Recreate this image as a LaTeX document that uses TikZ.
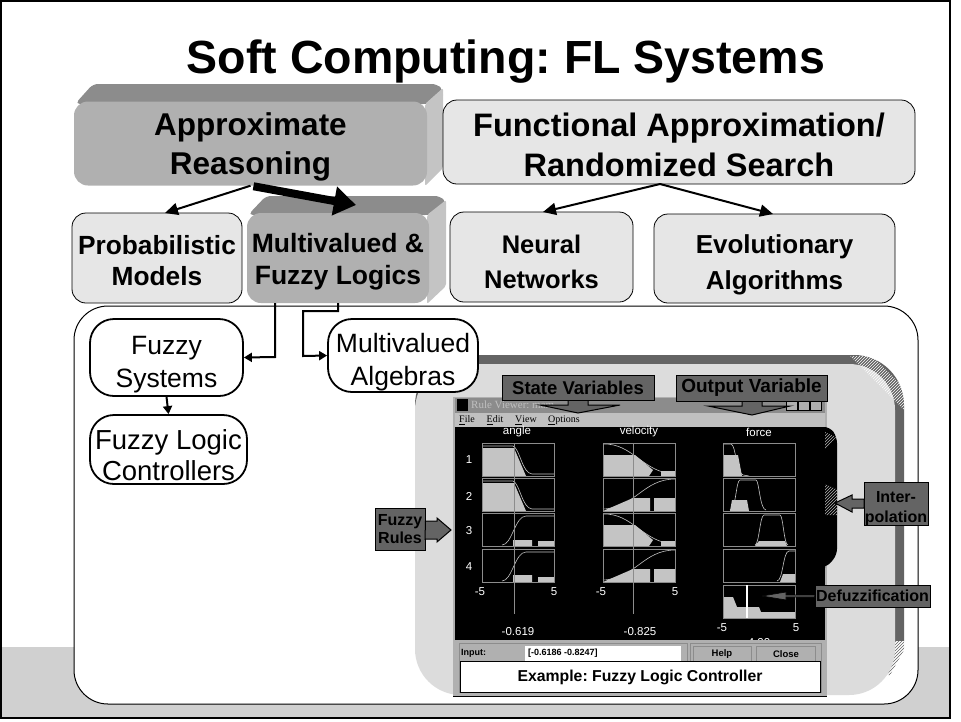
\documentclass[tikz,border=0pt]{standalone}
\usepackage{fontspec}
\setmainfont{Liberation Sans}
\newfontfamily\winfont{Liberation Serif}
\newfontfamily\fieldfont{Liberation Mono}
\usetikzlibrary{arrows.meta,patterns}
\definecolor{bandgray}{HTML}{D0D0D0}
\definecolor{palegray}{HTML}{E6E6E6}
\definecolor{midgray}{HTML}{B0B0B0}
\definecolor{topgray}{HTML}{8C8C8C}
\definecolor{sidegray}{HTML}{C4C4C4}
\definecolor{callgray}{HTML}{646464}
\definecolor{panelgray}{HTML}{DCDCDC}
\frenchspacing
\tikzset{
  mbox/.style={draw,rounded corners=14pt,fill=palegray,align=center,inner sep=0pt,line width=0.8pt},
  mdark/.style={rounded corners=14pt,fill=midgray,align=center,inner sep=0pt},
  mround/.style={draw,rounded corners=24pt,fill=white,align=center,inner sep=0pt,line width=1.8pt,font=\fontsize{26.5}{33}\selectfont},
  mcall/.style={draw,fill=callgray,align=center,inner sep=0pt,line width=1pt,font=\bfseries\fontsize{#1}{#1}\selectfont},
  mcall/.default=18,
  conn/.style={line width=2pt,-{Triangle[length=13pt,width=12pt]}},
  connsmall/.style={line width=2pt,-{Triangle[length=8pt,width=9pt]}},
  cellframe/.style={draw=topgray,line width=0.9pt},
  curve/.style={draw=sidegray,line width=0.6pt},
  wintext/.style={text=#1,inner sep=0pt,font=\fontsize{11.5}{11.5}\selectfont},
  wintext/.default=white,
}
\newcommand{\drop}[1]{\rule{0pt}{#1pt}}
\newcommand{\plotcell}[4]{\begin{scope}[shift={(#1,#2)}]
  \fill[sidegray] #3;
  \draw[curve] #4;
  \draw[cellframe] (0,0) rectangle (72,33);
\end{scope}}
\begin{document}
\begin{tikzpicture}[x=1pt,y=-1pt]
  \useasboundingbox (0,0) rectangle (961,721);
  % page
  \fill[bandgray] (0,647) rectangle (951,718);
  \draw[line width=1.6pt] (1,1) rectangle (950,718);
  \node[font=\bfseries\fontsize{46.5}{46.5}\selectfont,inner sep=0pt] (title) at (506,62) {Soft Computing: FL Systems};
  % big frame
  \node[draw,rounded corners=34pt,fill=white,minimum width=844pt,minimum height=398pt,line width=1pt] (frame) at (496,505) {};
  % screenshot panel
  \begin{scope}
    \clip (400,350) rectangle (910,640);
    \fill[callgray,rounded corners=50pt] (415,355) rectangle (904,720);
  \end{scope}
  \fill[pattern=north east lines,pattern color=callgray] (894,640) -- (904,640) -- (904,650) -- (890,675) -- (880,675) -- cycle;
  \fill[panelgray,rounded corners=46pt] (415,364) rectangle (895,695);
  \fill[pattern=north east lines,pattern color=white] (850,356) -- (872,356) -- (904,388) -- (904,410) -- cycle;
  % window
  \fill[midgray] (453,397) rectangle (827,696);
  \draw[black,line width=0.8pt] (453,696) -- (827,696);
  \fill[topgray] (455,398) rectangle (825,413);
  \fill[midgray!80!white] (455,413) rectangle (825,427);
  \fill[black] (455,427) rectangle (825,640);
  \fill[black,rounded corners=6pt] (820,427) -- (830,427) -- (837,437) -- (837,555) -- (827,567) -- (820,567) -- cycle;
  \fill[pattern=north east lines,pattern color=white!70!black] (825,432) -- (836,437) -- (825,450) -- cycle;
  \fill[pattern=north east lines,pattern color=white!70!black] (825,484) -- (838,490) -- (838,515) -- (825,515) -- cycle;
  \fill[black] (457,399) rectangle (468,411);
  \node[wintext=white!75!black,anchor=west,font=\winfont\fontsize{11}{11}\selectfont] (wintitle) at (471,405) {Rule Viewer: mam};
  \foreach \bx in {786,798,810} {\draw[fill=midgray] (\bx,399) rectangle ++(11,11);}
  \node[wintext=black,font=\winfont\fontsize{10}{10}\selectfont] (mfile) at (467,420) {\underline{F}ile};
  \node[wintext=black,font=\winfont\fontsize{10}{10}\selectfont] (medit) at (495,420) {\underline{E}dit};
  \node[wintext=black,font=\winfont\fontsize{10}{10}\selectfont] (mview) at (526,420) {\underline{V}iew};
  \node[wintext=black,font=\winfont\fontsize{10}{10}\selectfont] (mopt) at (564,420) {\underline{O}ptions};
  \node[wintext] (angle) at (517,432) {angle};
  \node[wintext] (velocity) at (639,432) {velocity};
  \node[wintext] (force) at (759,432) {force};
  \foreach \rownum/\rowy in {1/460,2/496,3/531,4/567} {
    \node[wintext] (row\rownum) at (469,\rowy) {\rownum};
  }
  % plot cells
  \plotcell{482}{443}{(0,5) -- (32,5) -- (44,33) -- (0,33) -- cycle}{(0,3) -- (31,3) .. controls (38,6) and (40,30) .. (50,31) -- (72,31)}
  \plotcell{482}{478}{(0,5) -- (32,5) -- (44,33) -- (0,33) -- cycle}{(0,3) -- (31,3) .. controls (38,6) and (40,30) .. (50,31) -- (72,31)}
  \plotcell{482}{513}{(31,27) -- (50,27) -- (50,33) -- (31,33) -- cycle (56,28) -- (72,28) -- (72,33) -- (56,33) -- cycle}{(20,32) .. controls (30,32) and (33,3) .. (44,3) -- (72,3)}
  \plotcell{482}{549}{(31,26) -- (50,26) -- (50,33) -- (31,33) -- cycle (56,28) -- (72,28) -- (72,33) -- (56,33) -- cycle}{(20,32) .. controls (30,32) and (33,3) .. (44,3) -- (72,3)}
  \plotcell{603}{443}{(0,12) -- (32,12) -- (50,27) -- (46,33) -- (0,33) -- cycle (58,28) -- (72,28) -- (72,33) -- (58,33) -- cycle}{(0,1) .. controls (30,0) and (40,30) .. (72,31)}
  \plotcell{603}{478}{(30,20) -- (47,20) -- (47,33) -- (0,33) -- cycle (51,20) -- (72,20) -- (72,33) -- (51,33) -- cycle}{(0,31) .. controls (32,30) and (40,1) .. (72,1)}
  \plotcell{603}{513}{(0,12) -- (32,12) -- (50,27) -- (46,33) -- (0,33) -- cycle (58,28) -- (72,28) -- (72,33) -- (58,33) -- cycle}{(0,1) .. controls (30,0) and (40,30) .. (72,31)}
  \plotcell{603}{549}{(30,20) -- (47,20) -- (47,33) -- (0,33) -- cycle (51,20) -- (72,20) -- (72,33) -- (51,33) -- cycle}{(0,31) .. controls (32,30) and (40,1) .. (72,1)}
  \plotcell{723}{443}{(0,12) -- (15,12) -- (19,33) -- (0,33) -- cycle}{(0,1) -- (8,1) .. controls (13,2) and (13,30) .. (20,32) -- (26,33)}
  \plotcell{723}{478}{(9,22) -- (24,22) -- (26,33) -- (7,33) -- cycle}{(7,32) .. controls (13,32) and (13,2) .. (17,2) -- (33,2) .. controls (36,2) and (37,32) .. (43,32)}
  \plotcell{723}{513}{(36,28) -- (62,28) -- (64,33) -- (32,33) -- cycle}{(32,32) .. controls (36,32) and (37,2) .. (41,2) -- (57,2) .. controls (60,2) and (61,32) .. (65,32)}
  \plotcell{723}{549}{(60,25) -- (72,25) -- (72,33) -- (57,33) -- cycle}{(54,32) .. controls (60,32) and (60,2) .. (66,2) -- (72,2)}
  \plotcell{723}{585}{(0,12) -- (10,12) -- (14,22) -- (36,22) -- (38,27) -- (72,27) -- (72,33) -- (0,33) -- cycle}{(0,33) -- (0,33)}
  \draw[topgray,line width=1pt] (514,443) -- (514,614);
  \draw[topgray,line width=1pt] (633,443) -- (633,614);
  \draw[white,line width=2.4pt] (747,585) -- (747,618);
  \node[wintext] (amin) at (480,592) {-5};
  \node[wintext] (amax) at (554,592) {5};
  \node[wintext] (vmin) at (601,592) {-5};
  \node[wintext] (vmax) at (675,592) {5};
  \node[wintext] (fmin) at (722,628) {-5};
  \node[wintext] (fmax) at (796,628) {5};
  \node[wintext] (aval) at (518,632) {-0.619};
  \node[wintext] (vval) at (640,632) {-0.825};
  \node[wintext] (fval) at (759,643) {4.00};
  % input strip
  \fill[midgray] (455,640) rectangle (825,694);
  \draw[topgray] (459,643) rectangle (687,692);
  \draw[topgray] (690,643) rectangle (821,692);
  \node[wintext=black,anchor=west,font=\bfseries\fontsize{9}{9}\selectfont] (inlabel) at (461,653) {Input:};
  \node[fill=white,minimum width=156pt,minimum height=15pt,inner sep=0pt] (infield) at (603,653) {};
  \node[wintext=black,anchor=west,font=\bfseries\fontsize{9}{9}\selectfont] (invalue) at (528,653) {[-0.6186 -0.8247]};
  \node[draw=topgray,fill=midgray,minimum width=58pt,minimum height=15pt,inner sep=0pt,font=\bfseries\fontsize{9.5}{9.5}\selectfont] (help) at (722,654) {Help};
  \node[draw=topgray,fill=midgray,minimum width=59pt,minimum height=15pt,inner sep=0pt,font=\bfseries\fontsize{9.5}{9.5}\selectfont] (close) at (786,654) {Close};
  \node[draw,fill=white,minimum width=360pt,minimum height=31pt,inner sep=0pt,line width=1pt,font=\bfseries\fontsize{15.8}{15.8}\selectfont] (example) at (640,677) {Example: Fuzzy Logic Controller};
  % top boxes
  \fill[topgray,rounded corners=5pt] (75,104) -- (93,84) -- (437,84) -- (443,90) -- (443,100) -- (428,104) -- cycle;
  \fill[sidegray,rounded corners=2pt] (425,104) -- (443,88) -- (443,168) -- (425,186) -- cycle;
  \node[mdark,minimum width=353pt,minimum height=84pt,font=\bfseries\fontsize{31.5}{39}\selectfont] (reason) at (250.5,143.5) {\drop{30}Approximate\\Reasoning};
  \node[mbox,minimum width=472pt,minimum height=84pt,font=\bfseries\fontsize{32.5}{40}\selectfont] (func) at (679,142) {\drop{30}Functional Approximation/\\Randomized Search};
  \node[mbox,minimum width=170pt,minimum height=90pt,font=\bfseries\fontsize{26.3}{31}\selectfont] (prob) at (157,258) {\drop{24}Probabilistic\\Models};
  \fill[topgray,rounded corners=5pt] (248,215) -- (266,196) -- (440,196) -- (446,202) -- (446,212) -- (430,215) -- cycle;
  \fill[sidegray,rounded corners=2pt] (427,215) -- (446,200) -- (446,286) -- (427,304) -- cycle;
  \node[mdark,minimum width=182pt,minimum height=90pt,font=\bfseries\fontsize{26.5}{32}\selectfont] (multi) at (338,258) {\drop{27}Multivalued \&\\Fuzzy Logics};
  \node[mbox,minimum width=183pt,minimum height=90pt,font=\bfseries\fontsize{25.5}{35}\selectfont] (neural) at (541.5,257) {\drop{29}Neural\\Networks};
  \node[mbox,minimum width=241pt,minimum height=89pt,font=\bfseries\fontsize{26}{36}\selectfont] (evol) at (774.5,258.5) {\drop{31}Evolutionary\\Algorithms};
  % lower boxes
  \node[mround,minimum width=153pt,minimum height=77pt] (fsys) at (166.5,357.5) {\drop{32}Fuzzy\\Systems};
  \node[mround,minimum width=150pt,minimum height=73pt] (malg) at (403,355.5) {\drop{32}Multivalued\\Algebras};
  \node[mround,minimum width=157pt,minimum height=69pt,font=\fontsize{27.5}{31}\selectfont] (flc) at (168.5,449.5) {\drop{32}Fuzzy Logic\\Controllers};
  % connectors
  \coordinate (thicktip) at (356,205);
  \coordinate (probtip) at (165,213);
  \coordinate (neurtip) at (543,212);
  \coordinate (evoltip) at (773,214);
  \coordinate (funcfoot) at (660,184);
  \coordinate (fsysleg) at (275,303);
  \coordinate (malgleg) at (338,303);
  \draw[conn] (reason.south) -- (probtip);
  \draw[line width=8pt,-{Triangle[length=22pt,width=28pt]},shorten <=3pt] (reason.south) -- (thicktip);
  \draw[conn] (funcfoot) -- (neurtip);
  \draw[conn] (funcfoot) -- (evoltip);
  \draw[connsmall] (fsysleg) -- (275,357) -- (fsys.east);
  \draw[connsmall] (malgleg) -- (338,311) -- (303,311) -- (303,356) -- (malg.west);
  \draw[connsmall] (fsys.south) -- (flc.north);
  % callouts
  \draw[fill=callgray,line width=1pt] (568,400) -- (568,405) -- (540,405) -- (578,413) -- (620,405) -- (588,405) -- (588,400) -- cycle;
  \node[mcall=18.5,minimum width=152pt,minimum height=25pt] (statev) at (578,387.5) {State Variables};
  \draw[fill=callgray,line width=1pt] (742,401) -- (742,406) -- (708,406) -- (752,415) -- (790,406) -- (762,406) -- (762,401) -- cycle;
  \node[mcall=19,minimum width=151pt,minimum height=26pt] (outv) at (751.5,388) {Output Variable};
  \node[mcall=16,minimum width=50pt,minimum height=42pt] (rules) at (400,529) {Fuzzy\\[2pt]Rules};
  \draw[fill=callgray,line width=1pt] (rules.east) ++(0,-8) -- (437,521) -- (437,518) -- (451,530) -- (437,542) -- (437,539) -- (425,539) -- cycle;
  \node[mcall=16,minimum width=64pt,minimum height=32pt] (inter) at (896,504) {\drop{20}Inter-\\[4pt]polation};
  \draw[fill=callgray,line width=1pt] (864,499) -- (852,499) -- (852,495) -- (835,503) -- (852,512) -- (852,508) -- (864,508) -- cycle;
  \node[mcall=16,minimum width=115pt,minimum height=22pt] (defuzz) at (872.5,596) {Defuzzification};
  \draw[fill=callgray,line width=0.6pt] (defuzz.west) ++(0,1) -- (786,597) -- (786,600) -- (762,596) -- (786,592) -- (786,595) -- (815,595) -- cycle;
\end{tikzpicture}
\end{document}
